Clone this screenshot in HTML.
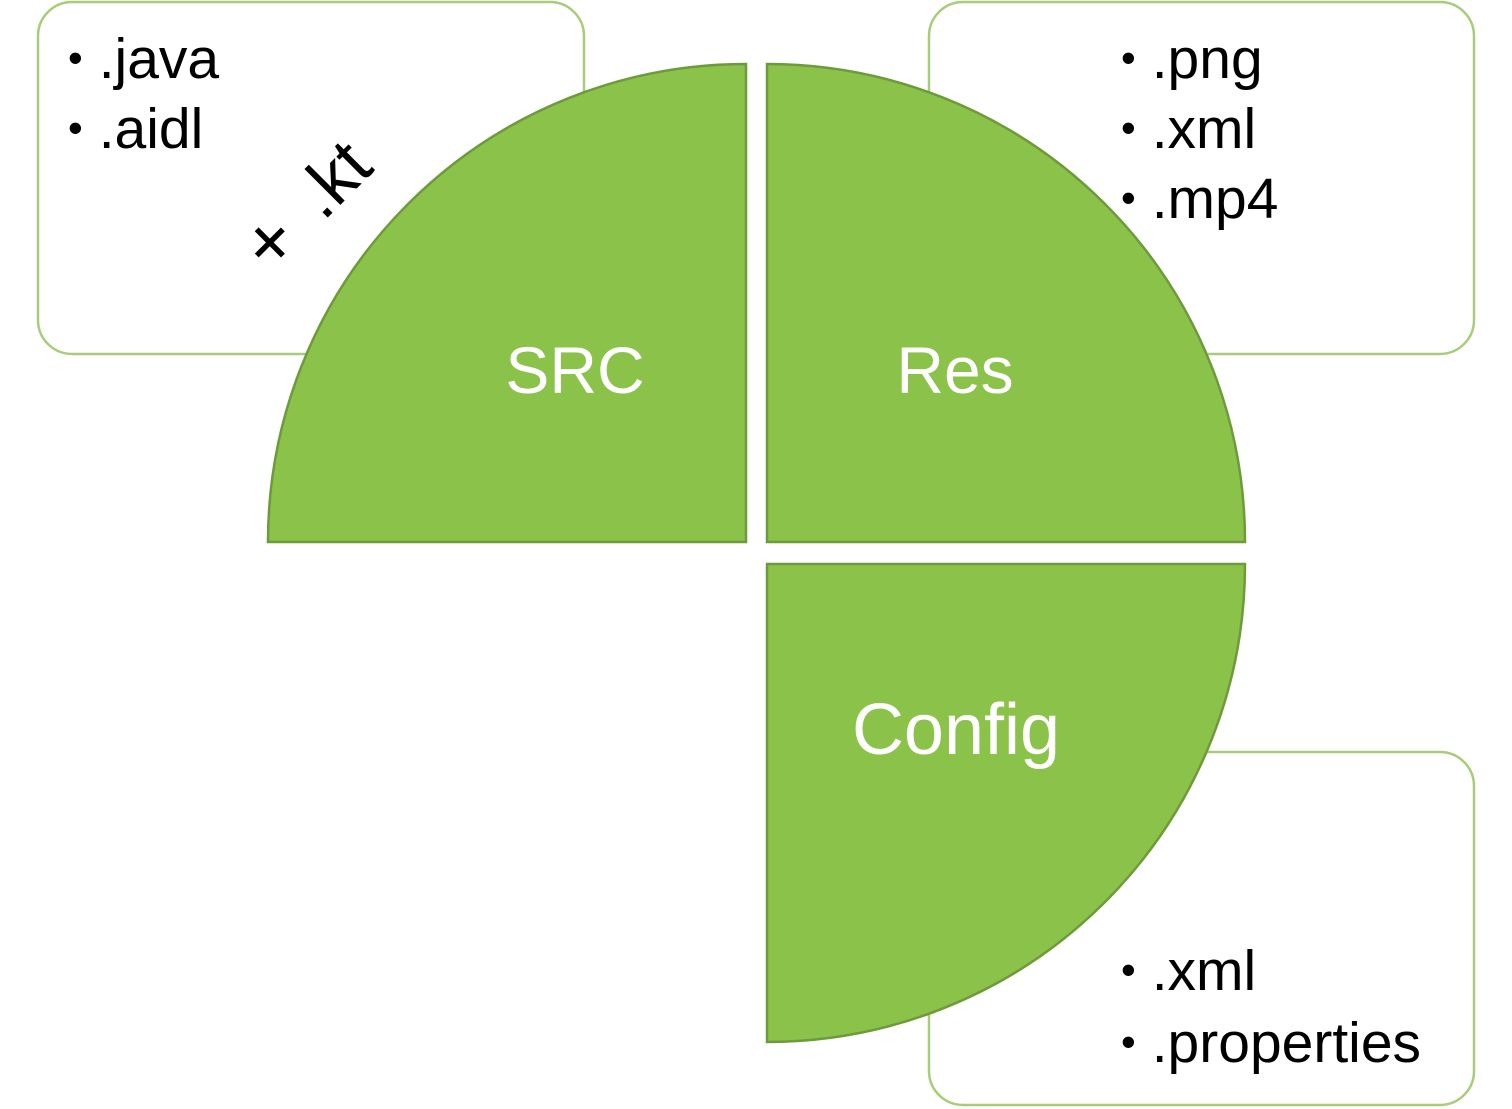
<!DOCTYPE html>
<html><head><style>html,body{margin:0;padding:0;background:#fff;}svg{display:block}</style></head>
<body>
<svg width="1512" height="1109" viewBox="0 0 1512 1109" xmlns="http://www.w3.org/2000/svg" font-family="Liberation Sans, sans-serif">
<g fill="#fff" stroke="#a9cc7c" stroke-width="2.5">
<rect x="38" y="2" width="546" height="352" rx="34"/>
<rect x="929" y="2" width="545" height="352" rx="34"/>
<rect x="929" y="752" width="545" height="353" rx="34"/>
</g>
<g fill="#8bc34a" stroke="#6e9a3c" stroke-width="2.5">
<path d="M746 542 L268 542 A478 478 0 0 1 746 64 Z"/>
<path d="M767 542 L767 64 A478 478 0 0 1 1245 542 Z"/>
<path d="M767 564 L1245 564 A478 478 0 0 1 767 1042 Z"/>
</g>
<g font-size="57" fill="#000">
<text x="68" y="78"><tspan font-size="42" dy="-6">•</tspan><tspan dy="6" dx="16">.java</tspan></text>
<text x="68" y="148"><tspan font-size="42" dy="-6">•</tspan><tspan dy="6" dx="16">.aidl</tspan></text>
<text x="1121" y="78"><tspan font-size="42" dy="-6">•</tspan><tspan dy="6" dx="16">.png</tspan></text>
<text x="1121" y="148"><tspan font-size="42" dy="-6">•</tspan><tspan dy="6" dx="16">.xml</tspan></text>
<text x="1121" y="218"><tspan font-size="42" dy="-6">•</tspan><tspan dy="6" dx="16">.mp4</tspan></text>
<text x="1121" y="990"><tspan font-size="42" dy="-6">•</tspan><tspan dy="6" dx="16">.xml</tspan></text>
<text x="1121" y="1062"><tspan font-size="42" dy="-6">•</tspan><tspan dy="6" dx="16">.properties</tspan></text>
<text transform="translate(272,276) rotate(-45)" font-size="70"><tspan font-size="76">+</tspan><tspan dx="30" dy="-2">.kt</tspan></text>
</g>
<g font-size="66" fill="#fff" text-anchor="middle">
<text x="575" y="393">SRC</text>
<text x="955" y="393">Res</text>
<text x="956" y="754" font-size="72">Config</text>
</g>
</svg>
</body></html>
